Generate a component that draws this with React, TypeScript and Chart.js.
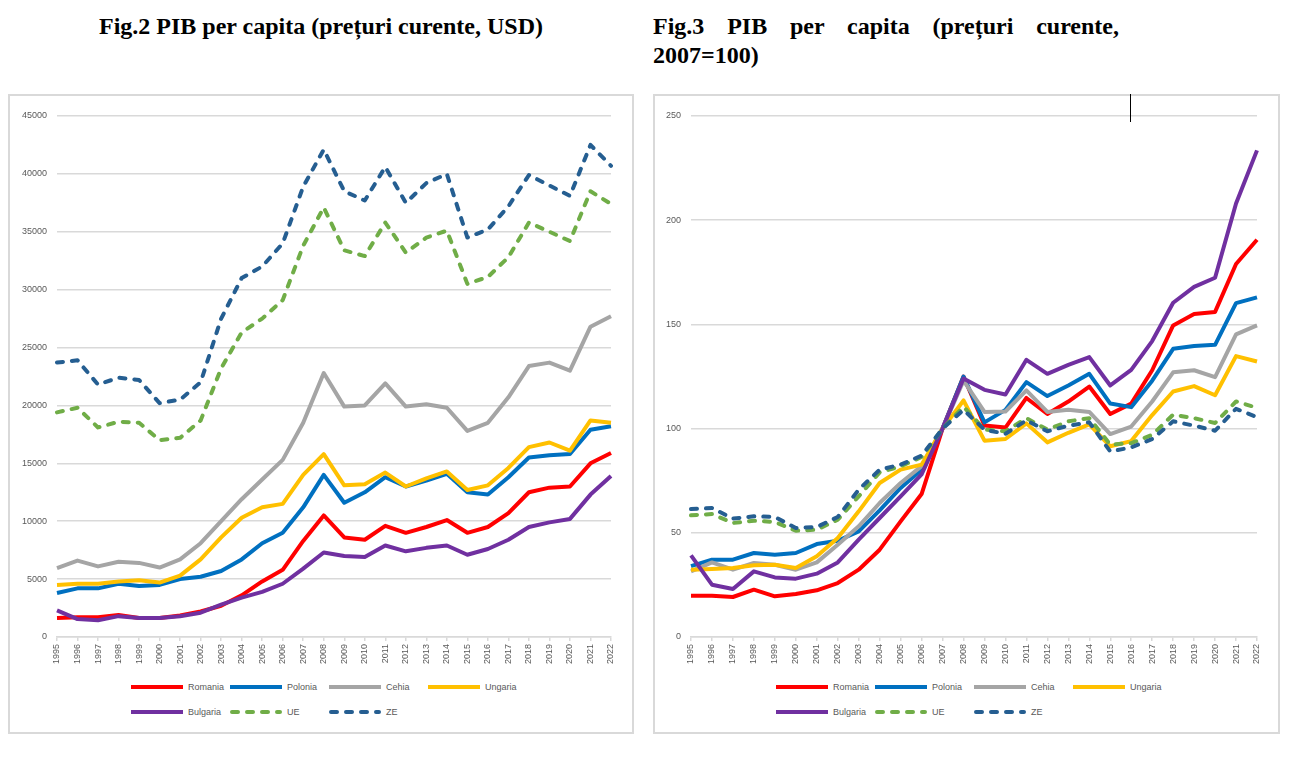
import { useEffect, useRef } from 'react';
import { Chart, registerables } from 'chart.js';

Chart.register(...registerables);

const years = ['1995', '1996', '1997', '1998', '1999', '2000', '2001', '2002', '2003', '2004', '2005', '2006', '2007', '2008',
    '2009', '2010', '2011', '2012', '2013', '2014', '2015', '2016', '2017', '2018', '2019', '2020', '2021', '2022'];

const seriesNames = ['Romania', 'Polonia', 'Cehia', 'Ungaria', 'Bulgaria', 'UE', 'ZE'];
const seriesColors = ['#FF0000', '#0070C0', '#A5A5A5', '#FFC000', '#7030A0', '#70AD47', '#255E91'];
const seriesDashed = [false, false, false, false, false, true, true];

// Fig.2 - USD, preturi curente
const romaniaUsd = [1650, 1700, 1700, 1900, 1650, 1650, 1850, 2200, 2700, 3600, 4800, 5800, 8300, 10500, 8600, 8400, 9600, 9000, 9500, 10100, 9000, 9500, 10700, 12500, 12900, 13000, 15000, 15900];
const poloniaUsd = [3800, 4200, 4200, 4600, 4400, 4500, 5000, 5200, 5700, 6700, 8100, 9000, 11200, 14000, 11600, 12500, 13800, 13000, 13500, 14100, 12500, 12300, 13800, 15500, 15700, 15800, 17900, 18200];
const cehiaUsd = [5950, 6600, 6100, 6500, 6400, 6000, 6700, 8100, 10000, 11900, 13600, 15300, 18500, 22800, 19900, 20000, 21900, 19900, 20100, 19800, 17800, 18500, 20700, 23400, 23700, 23000, 26800, 27700];
const ungariaUsd = [4500, 4600, 4600, 4800, 4900, 4700, 5300, 6700, 8600, 10300, 11200, 11500, 14000, 15800, 13100, 13200, 14200, 13000, 13700, 14300, 12700, 13100, 14600, 16400, 16800, 16100, 18700, 18500];
const bulgariaUsd = [2300, 1550, 1450, 1800, 1650, 1650, 1800, 2100, 2800, 3400, 3900, 4600, 5900, 7300, 7000, 6900, 7900, 7400, 7700, 7900, 7100, 7600, 8400, 9500, 9900, 10200, 12300, 13900];
const ueUsd = [19400, 19800, 18100, 18600, 18500, 17000, 17200, 18700, 23200, 26300, 27500, 29100, 33800, 37100, 33400, 32900, 35800, 33200, 34500, 35100, 30500, 31100, 32800, 35800, 35000, 34200, 38500, 37400];
const zeUsd = [23700, 23900, 21800, 22400, 22200, 20200, 20500, 22000, 27500, 31000, 32000, 34000, 38900, 42100, 38500, 37700, 40600, 37500, 39200, 40000, 34500, 35200, 37200, 39900, 39000, 38100, 42500, 40700];

// Fig.3 - indice, 2007=100
const romaniaIdx = [19.8, 19.8, 19.2, 22.7, 19.5, 20.6, 22.4, 25.9, 32.3, 41.9, 55.5, 68.6, 100, 125, 101.5, 100.5, 114.7, 107, 113, 120.2, 107, 112, 128, 149.5, 155, 156, 179, 190.6];
const poloniaIdx = [34, 37.1, 37.1, 40.3, 39.5, 40.3, 44.6, 46.2, 50.7, 60.8, 71.5, 80.3, 100, 125, 103, 109, 122.3, 115.6, 120.7, 126.3, 112, 110.3, 123, 138.3, 139.6, 140.2, 160.2, 163];
const cehiaIdx = [31.5, 35.8, 32.3, 35.5, 34.7, 32.3, 35.8, 44.3, 53.1, 64.3, 73.9, 82, 100, 123, 108, 108.2, 118.3, 108, 109, 108, 97.4, 101, 113, 127, 128, 124.7, 145.2, 149.5];
const ungariaIdx = [32.3, 32.6, 33.1, 34.4, 34.7, 33.1, 38.7, 47.5, 60.3, 73.9, 80.3, 82.7, 100, 113.5, 94.2, 95, 102.5, 93.4, 98, 102, 91.5, 94, 106.5, 117.8, 120.4, 116, 134.8, 132.2];
const bulgariaIdx = [39.2, 25.1, 23, 31.5, 28.6, 28, 30.4, 35.8, 46.7, 57.1, 67.5, 78, 100, 124, 118.6, 116.4, 133, 126.3, 130.6, 134.3, 120.7, 128.2, 142, 160.4, 168, 172.4, 208, 233.5];
const ueIdx = [58.4, 59, 54.7, 55.8, 55.2, 51, 51.5, 56.3, 67.5, 79, 81.9, 86.4, 100, 110.5, 99.5, 98.7, 105, 99.5, 103.5, 105, 92.3, 93, 97, 106.7, 105, 102.7, 113, 110];
const zeIdx = [61.4, 61.9, 56.8, 57.9, 57.6, 52.3, 52.8, 57.6, 70.7, 80.3, 82.7, 87, 100, 109, 99.5, 97.5, 104, 98.7, 101.4, 103, 89, 91, 95, 103.5, 101.4, 99, 109.5, 105.5];

const usdTicks = [0, 5000, 10000, 15000, 20000, 25000, 30000, 35000, 40000, 45000];
const idxTicks = [0, 50, 100, 150, 200, 250];

const usdValues = [romaniaUsd, poloniaUsd, cehiaUsd, ungariaUsd, bulgariaUsd, ueUsd, zeUsd];
const idxValues = [romaniaIdx, poloniaIdx, cehiaIdx, ungariaIdx, bulgariaIdx, ueIdx, zeIdx];

const GRID = '#D9D9D9';
const TEXT = '#595959';
const SANS = "'Liberation Sans', Arial, sans-serif";

interface LineChartProps {
    values: number[][];
    ticks: number[];
    yAxisWidth: number;
}

function LineChart({ values, ticks, yAxisWidth }: LineChartProps) {
    const chartRef = useRef<HTMLCanvasElement>(null);

    useEffect(() => {
        if (!chartRef.current) return;
        const n = seriesNames.length;
        const chart = new Chart(chartRef.current, {
            type: 'line',
            data: {
                labels: years,
                datasets: seriesNames.map((name, i) => ({
                    label: name,
                    data: values[i],
                    borderColor: seriesColors[i],
                    backgroundColor: seriesColors[i],
                    borderWidth: 4,
                    borderDash: seriesDashed[i] ? [6, 9] : [],
                    borderCapStyle: seriesDashed[i] ? 'round' : 'butt',
                    borderJoinStyle: 'round',
                    pointRadius: 0,
                    tension: 0,
                    fill: false,
                    // Excel draws later series on top
                    order: n - i,
                })),
            },
            options: {
                animation: false,
                responsive: true,
                maintainAspectRatio: false,
                layout: { padding: { top: 20, right: 21, bottom: 0, left: 0 } },
                plugins: {
                    legend: { display: false },
                    tooltip: { enabled: false },
                },
                scales: {
                    x: {
                        grid: { drawOnChartArea: false, color: GRID, lineWidth: 1.5, tickLength: 4 },
                        border: { color: GRID, width: 1.5 },
                        ticks: {
                            color: TEXT,
                            font: { family: SANS, size: 9 },
                            maxRotation: 90,
                            minRotation: 90,
                            autoSkip: false,
                            padding: 3,
                        },
                        afterFit: (scale: any) => { scale.height = 40; },
                    },
                    y: {
                        min: 0,
                        max: ticks[ticks.length - 1],
                        afterBuildTicks: (axis: any) => { axis.ticks = ticks.map((v) => ({ value: v })); },
                        grid: { color: GRID, lineWidth: 1.5, drawTicks: false },
                        border: { display: false },
                        ticks: {
                            color: TEXT,
                            font: { family: SANS, size: 9 },
                            padding: 10,
                            callback: (v: any) => String(v),
                        },
                        afterFit: (scale: any) => { scale.width = yAxisWidth; },
                    },
                },
            },
        } as any);

        return () => {
            chart.destroy();
        };
    }, []);

    return <canvas ref={chartRef}></canvas>;
}

function Legend() {
    return (
        <>
            {seriesNames.map((name, i) => (
                <div key={name} style={{
                    position: 'absolute',
                    left: 121 + (i % 4) * 99,
                    top: 585 + Math.floor(i / 4) * 24.5,
                    height: 12,
                    display: 'flex',
                    alignItems: 'center',
                    font: `9px ${SANS}`,
                    color: TEXT,
                    whiteSpace: 'nowrap',
                }}>
                    <svg width={52} height={6} style={{ display: 'block' }}>
                        <line x1={seriesDashed[i] ? 2 : 0} y1={3} x2={seriesDashed[i] ? 50 : 52} y2={3}
                            stroke={seriesColors[i]} strokeWidth={4}
                            strokeDasharray={seriesDashed[i] ? '6 9' : undefined}
                            strokeLinecap={seriesDashed[i] ? 'round' : 'butt'} />
                    </svg>
                    <span style={{ marginLeft: 5 }}>{name}</span>
                </div>
            ))}
        </>
    );
}

const titleStyle: React.CSSProperties = {
    position: 'absolute',
    top: 12,
    fontFamily: "'Liberation Serif', 'Times New Roman', serif",
    fontWeight: 'bold',
    fontSize: 24,
    lineHeight: '29px',
    color: '#000',
};

const boxStyle: React.CSSProperties = {
    position: 'absolute',
    top: 94,
    height: 640,
    border: `2px solid ${GRID}`,
    boxSizing: 'border-box',
    background: '#fff',
};

export default function App() {
    return (
        <div style={{ position: 'fixed', left: 0, top: 0, width: 1300, height: 765, background: '#fff', overflow: 'hidden' }}>
            <div style={{ ...titleStyle, left: 8, width: 626, textAlign: 'center' }}>
                Fig.2 PIB per capita (prețuri curente, USD)
            </div>
            <div style={{ ...titleStyle, left: 653, width: 466, textAlign: 'justify' }}>
                Fig.3 PIB per capita (prețuri curente, 2007=100)
            </div>

            <div style={{ ...boxStyle, left: 8, width: 626 }}>
                <div style={{ position: 'absolute', left: 0, top: 0, width: 622, height: 581 }}>
                    <LineChart values={usdValues} ticks={usdTicks} yAxisWidth={47} />
                </div>
                <Legend />
            </div>

            <div style={{ ...boxStyle, left: 653, width: 627 }}>
                <div style={{ position: 'absolute', left: 0, top: 0, width: 623, height: 581 }}>
                    <LineChart values={idxValues} ticks={idxTicks} yAxisWidth={36} />
                </div>
                <Legend />
            </div>

            <div style={{ position: 'absolute', left: 1130, top: 94, width: 1, height: 28, background: '#000' }} />
        </div>
    );
}
